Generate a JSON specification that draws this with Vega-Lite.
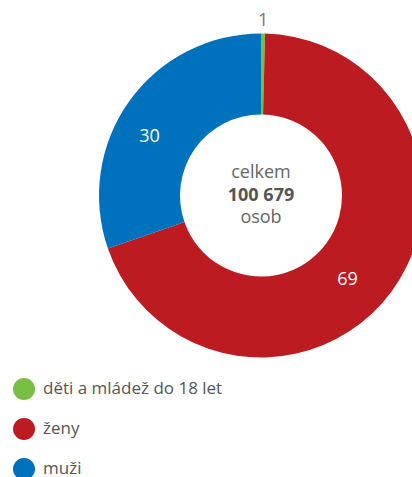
{
  "$schema": "https://vega.github.io/schema/vega-lite/v6.json",
  "width": 522,
  "height": 391,
  "autosize": {"type": "none"},
  "padding": {"left": 0, "top": 0, "right": 0, "bottom": 86},
  "background": "white",
  "config": {"view": {"stroke": null}, "font": "Open Sans"},
  "data": {"values": [
    {"skupina": "děti a mládež do 18 let", "podil": 0.4, "popisek": "1", "poradi": 1},
    {"skupina": "ženy", "podil": 69.3, "popisek": "69", "poradi": 2},
    {"skupina": "muži", "podil": 30.3, "popisek": "30", "poradi": 3}
  ]},
  "layer": [
    {
      "mark": {"type": "arc", "innerRadius": 81, "outerRadius": 162},
      "encoding": {
        "theta": {"field": "podil", "type": "quantitative", "stack": true},
        "order": {"field": "poradi", "type": "quantitative"},
        "color": {
          "field": "skupina", "type": "nominal",
          "scale": {"domain": ["děti a mládež do 18 let", "ženy", "muži"], "range": ["#78BE43", "#BC1B22", "#0071BC"]},
          "legend": {
            "title": null, "orient": "none", "legendX": 13, "legendY": 378, "padding": 0,
            "symbolType": "circle", "symbolSize": 484, "symbolStrokeWidth": 0, "symbolOpacity": 1,
            "labelFontSize": 17, "labelColor": "#555555", "labelFont": "Open Sans", "labelOffset": 8,
            "labelLimit": 400, "rowPadding": 18
          }
        }
      }
    },
    {
      "mark": {"type": "text", "radius": 122, "dx": -12, "dy": 12, "fontSize": 18, "font": "Open Sans", "baseline": "middle", "align": "center"},
      "encoding": {
        "theta": {"field": "podil", "type": "quantitative", "stack": true},
        "order": {"field": "poradi", "type": "quantitative"},
        "text": {"condition": {"test": "datum.poradi > 1", "field": "popisek"}, "value": ""},
        "color": {"value": "white"}
      }
    },
    {
      "mark": {"type": "text", "radius": 175, "fontSize": 18, "font": "Open Sans", "baseline": "middle", "align": "center"},
      "encoding": {
        "theta": {"field": "podil", "type": "quantitative", "stack": true},
        "order": {"field": "poradi", "type": "quantitative"},
        "text": {"condition": {"test": "datum.poradi == 1", "field": "popisek"}, "value": ""},
        "color": {"value": "#777777"}
      }
    },
    {
      "data": {"values": [{"t": "celkem"}]},
      "mark": {"type": "text", "fontSize": 18, "font": "Open Sans", "baseline": "middle", "align": "center", "dy": -23, "color": "#666666"},
      "encoding": {"text": {"field": "t"}}
    },
    {
      "data": {"values": [{"t": "100 679"}]},
      "mark": {"type": "text", "fontSize": 18, "font": "Open Sans", "fontWeight": "bold", "baseline": "middle", "align": "center", "dy": 0, "color": "#555555"},
      "encoding": {"text": {"field": "t"}}
    },
    {
      "data": {"values": [{"t": "osob"}]},
      "mark": {"type": "text", "fontSize": 18, "font": "Open Sans", "baseline": "middle", "align": "center", "dy": 22, "color": "#666666"},
      "encoding": {"text": {"field": "t"}}
    }
  ]
}
